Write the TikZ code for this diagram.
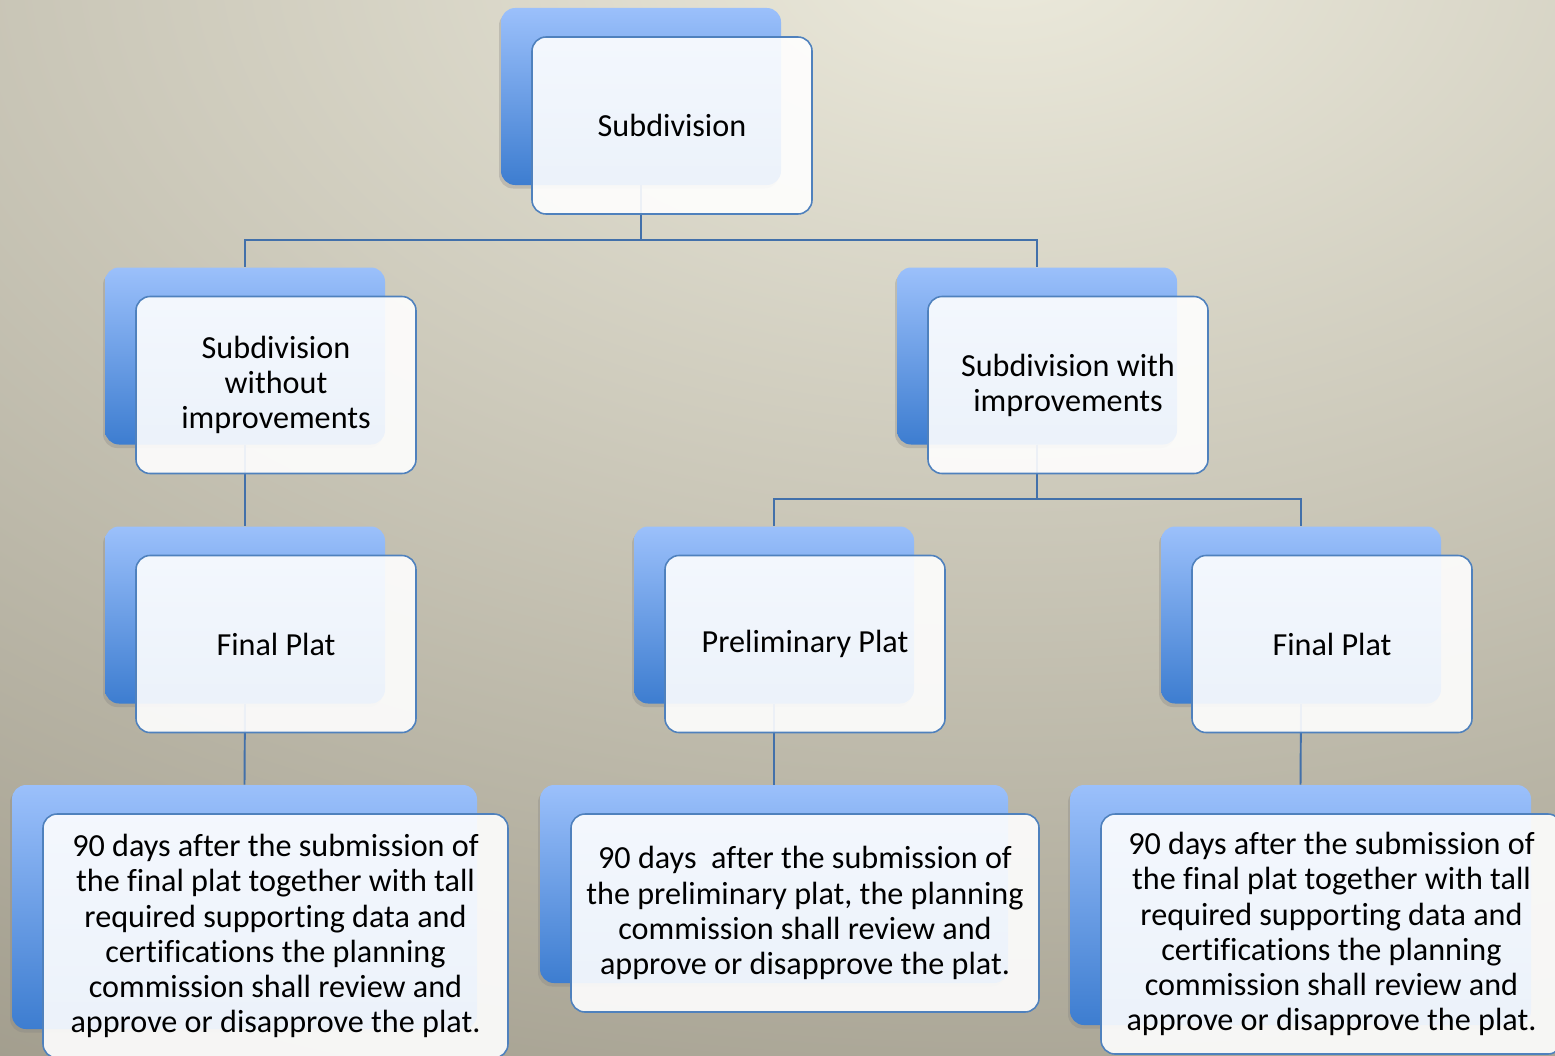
\documentclass[tikz,border=0pt]{standalone}
\usepackage{fontspec}
\setmainfont{Carlito}[RawFeature={-liga;-clig}]
\usepackage{tikz}
\usetikzlibrary{positioning, calc, shadows}
\definecolor{bglight}{RGB}{236,234,220}
\definecolor{bgdark}{RGB}{155,150,134}
\definecolor{boxtop}{RGB}{155,192,251}
\definecolor{boxbot}{RGB}{61,125,208}
\definecolor{boxline}{RGB}{79,129,189}
\definecolor{linkblue}{RGB}{66,112,170}
\tikzset{
  backbox/.style={rectangle, top color=boxtop, bottom color=boxbot,
    rounded corners=8pt, inner sep=0pt, minimum width=5.6cm, minimum height=3.54cm,
    drop shadow={shadow xshift=-0.04cm, shadow yshift=-0.07cm, opacity=0.3}},
  frontbox/.style={rectangle, draw=boxline, fill=white, fill opacity=0.9, text opacity=1,
    line width=0.9pt, rounded corners=8pt, inner sep=0pt,
    minimum width=5.6cm, minimum height=3.54cm, align=center,
    font=\fontsize{18.3}{20}\selectfont},
  front/.style={shift={(0.62,-0.58)}},
  link/.style={draw=linkblue, line width=1.1pt}
}

\begin{document}
\begin{tikzpicture}
  \useasboundingbox (0,0) rectangle (31.1,-21.1);
  \begin{scope}
    \clip (0,0) rectangle (31.1,-21.1);
    \shade[inner color=bglight, outer color=bgdark] (20,1) ellipse (46 and 28);
  \end{scope}

  \node[backbox] (sub) at (12.82,-1.93) {};
  \node[backbox] (without) at (4.9,-7.12) {};
  \node[backbox] (with) at (20.74,-7.12) {};
  \node[backbox] (finalA) at (4.9,-12.3) {};
  \node[backbox] (prelim) at (15.48,-12.3) {};
  \node[backbox] (finalB) at (26.02,-12.3) {};
  \node[backbox, minimum width=9.3cm, minimum height=4.88cm] (ruleA) at (4.89,-18.14) {};
  \node[backbox, minimum width=9.36cm, minimum height=3.96cm] (rulePre) at (15.48,-17.68) {};
  \node[backbox, minimum width=9.22cm, minimum height=4.8cm] (ruleB) at (26.01,-18.1) {};

  \draw[link] (sub.south) |- ($(without.north)+(0,0.54)$) -- (without.north);
  \draw[link] (sub.south) |- ($(with.north)+(0,0.54)$) -- (with.north);
  \draw[link] (without.south) -- (finalA.north);
  \draw[link] (with.south) |- ($(prelim.north)+(0,0.54)$) -- (prelim.north);
  \draw[link] (with.south) |- ($(finalB.north)+(0,0.54)$) -- (finalB.north);
  \draw[link] (finalA.south) -- (ruleA.north);
  \draw[link] (prelim.south) -- (rulePre.north);
  \draw[link] (finalB.south) -- (ruleB.north);

  \node[frontbox] (subF) at ([front]sub.center) {Subdivision};
  \node[frontbox] (withoutF) at ([front]without.center) {Subdivision\\without\\improvements};
  \node[frontbox] (withF) at ([front]with.center) {Subdivision with\\improvements};
  \node[frontbox] (finalAF) at ([front]finalA.center) {Final Plat};
  \node[frontbox] (prelimF) at ([front]prelim.center) {Preliminary Plat};
  \node[frontbox] (finalBF) at ([front]finalB.center) {Final Plat};
  \node[frontbox, minimum width=9.3cm, minimum height=4.88cm] (ruleAF) at ([front]ruleA.center)
    {90 days after the submission of\\the final plat together with tall\\required suppor\kern0pt ting data and\\cert\kern0pt ifications the planning\\commission shall review and\\approve or disapprove the plat.};
  \node[frontbox, minimum width=9.36cm, minimum height=3.96cm] (rulePreF) at ([front]rulePre.center)
    {90 days\ \ after the submission of\\the preliminary plat, the planning\\commission shall review and\\approve or disapprove the plat.};
  \node[frontbox, minimum width=9.22cm, minimum height=4.8cm] (ruleBF) at ([front]ruleB.center)
    {90 days after the submission of\\the final plat together with tall\\required suppor\kern0pt ting data and\\cert\kern0pt ifications the planning\\commission shall review and\\approve or disapprove the plat.};
\end{tikzpicture}
\end{document}
